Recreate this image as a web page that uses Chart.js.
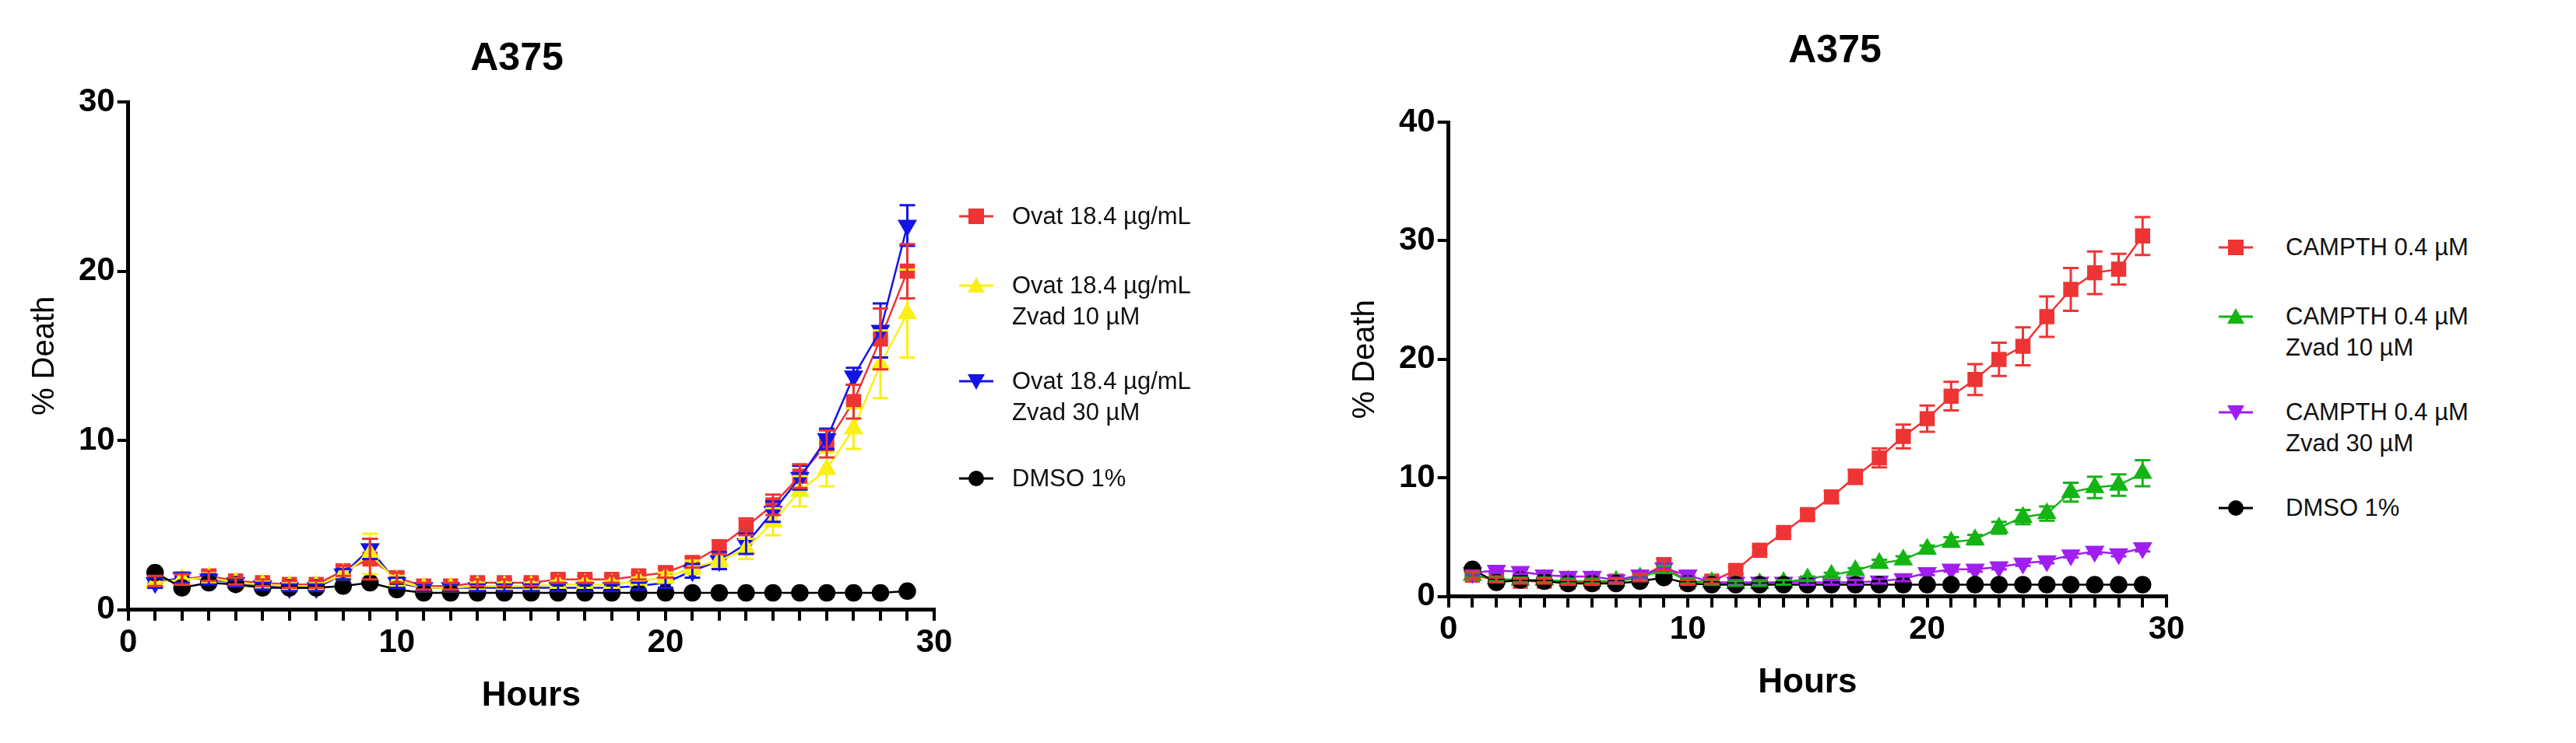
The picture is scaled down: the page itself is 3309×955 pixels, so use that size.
<!DOCTYPE html>
<html>
<head>
<meta charset="utf-8">
<script src="https://cdn.jsdelivr.net/npm/chart.js@4.4.1/dist/chart.umd.min.js"></script>
<style>
body { margin: 0; background: #fff; font-family: "Liberation Sans", Arial, sans-serif; }
#wrap { position: relative; width: 3309px; height: 955px; }
canvas { position: absolute; }
.title { position: absolute; font-weight: bold; font-size: 50px; transform: translateX(-50%); }
.leg { position: absolute; font-size: 31px; line-height: 40px; color: #111; }
.leg svg { position: absolute; }
</style>
</head>
<body>
<div id="wrap">
  <div class="title" style="left:664px;top:44px">A375</div>
  <div class="title" style="left:2357px;top:34px">A375</div>
  <canvas id="left" style="left:0;top:0" width="1230" height="955"></canvas>
  <canvas id="right" style="left:1660px;top:0" width="1170" height="955"></canvas>
  <div id="legLeft"></div>
  <div id="legRight"></div>
</div>
<script>
// 時間 (共通)
const hours = [1,2,3,4,5,6,7,8,9,10,11,12,13,14,15,16,17,18,19,20,21,22,23,24,25,26,27,28,29];

// 左: Ovat
const ovat = [1.7,1.8,2.0,1.7,1.6,1.5,1.5,2.3,3.0,1.9,1.4,1.4,1.6,1.6,1.6,1.8,1.8,1.8,2.0,2.2,2.8,3.7,4.9,6.2,7.9,9.8,12.3,16.0,20.0];
const ovatErr = [0.3,0.3,0.3,0.2,0.2,0.2,0.2,0.3,1.2,0.3,0.2,0.2,0.2,0.2,0.2,0.2,0.2,0.2,0.2,0.3,0.3,0.4,0.5,0.6,0.7,0.8,1.0,1.8,1.6];
const ovatZ10 = [1.6,1.8,1.9,1.6,1.5,1.4,1.4,2.1,3.3,1.7,1.3,1.3,1.4,1.4,1.4,1.5,1.5,1.5,1.7,1.9,2.5,2.9,3.6,5.2,7.0,8.3,10.7,14.5,17.5];
const ovatZ10Err = [0.3,0.3,0.3,0.2,0.2,0.2,0.2,0.3,1.2,0.3,0.2,0.2,0.2,0.2,0.2,0.2,0.2,0.2,0.2,0.3,0.4,0.4,0.6,0.8,0.9,1.0,1.2,2.0,2.6];
const ovatZ30 = [1.6,1.9,1.8,1.6,1.4,1.3,1.3,2.1,3.6,1.6,1.3,1.3,1.3,1.3,1.3,1.3,1.3,1.3,1.4,1.6,2.3,2.9,3.9,5.8,7.8,10.1,13.8,16.5,22.7];
const ovatZ30Err = [0.3,0.3,0.3,0.2,0.2,0.2,0.2,0.3,0.6,0.3,0.2,0.2,0.2,0.2,0.2,0.2,0.2,0.2,0.2,0.3,0.4,0.5,0.6,0.6,0.7,0.6,0.5,1.6,1.2];
const dmsoL = [2.2,1.3,1.6,1.5,1.3,1.3,1.3,1.4,1.6,1.2,1.0,1.0,1.0,1.0,1.0,1.0,1.0,1.0,1.0,1.0,1.0,1.0,1.0,1.0,1.0,1.0,1.0,1.0,1.1];

// 右: CAMPTH
const campth = [1.8,1.4,1.3,1.3,1.2,1.2,1.3,1.6,2.7,1.2,1.3,2.2,3.9,5.4,6.9,8.4,10.1,11.7,13.5,15.0,16.9,18.3,20.0,21.1,23.6,25.9,27.3,27.6,30.4];
const campthErr = [0.3,0.2,0.2,0.2,0.2,0.2,0.2,0.3,0.5,0.2,0.2,0.3,0.3,0.3,0.4,0.5,0.6,0.8,1.0,1.1,1.2,1.3,1.4,1.6,1.7,1.8,1.8,1.3,1.6];
const campthZ10 = [1.8,1.5,1.4,1.4,1.3,1.3,1.3,1.6,2.3,1.3,1.2,1.1,1.1,1.2,1.5,1.8,2.2,2.8,3.1,4.0,4.6,4.8,5.8,6.7,7.0,8.8,9.2,9.4,10.4];
const campthZ10Err = [0.2,0.2,0.2,0.2,0.2,0.2,0.2,0.2,0.3,0.2,0.2,0.2,0.2,0.2,0.2,0.2,0.2,0.3,0.3,0.3,0.4,0.4,0.5,0.6,0.6,0.8,0.9,0.9,1.1];
const campthZ30 = [2.0,2.2,2.1,1.8,1.7,1.7,1.4,1.8,2.4,1.8,1.2,1.2,1.2,1.2,1.2,1.2,1.2,1.3,1.5,2.0,2.3,2.3,2.5,2.8,3.0,3.5,3.8,3.6,4.1];
const campthZ30Err = [0.2,0.2,0.2,0.2,0.2,0.2,0.2,0.2,0.4,0.2,0.2,0.2,0.2,0.2,0.2,0.2,0.2,0.2,0.2,0.2,0.2,0.2,0.2,0.2,0.2,0.2,0.2,0.2,0.3];
const dmsoR = [2.3,1.2,1.4,1.3,1.1,1.1,1.1,1.3,1.6,1.1,1.0,1.0,1.0,1.0,1.0,1.0,1.0,1.0,1.0,1.0,1.0,1.0,1.0,1.0,1.0,1.0,1.0,1.0,1.0];

const red = 'rgb(238,52,52)', yellow = 'rgb(250,240,20)', blue = 'rgb(20,20,230)',
      green = 'rgb(20,180,20)', purple = 'rgb(160,30,240)', black = '#000';

// エラーバー描画プラグイン
const errorBars = {
    id: 'errorBars',
    afterDatasetsDraw(chart) {
        const ctx = chart.ctx;
        const y = chart.scales.y;
        chart.data.datasets.forEach((ds, i) => {
            if (!ds.errors) return;
            const meta = chart.getDatasetMeta(i);
            ctx.save();
            ctx.strokeStyle = ds.errColor || ds.borderColor;
            ctx.lineWidth = 3;
            meta.data.forEach((pt, j) => {
                const v = ds.data[j].y, e = ds.errors[j];
                const top = y.getPixelForValue(v + e), bot = y.getPixelForValue(v - e);
                ctx.beginPath();
                ctx.moveTo(pt.x, top); ctx.lineTo(pt.x, bot);
                ctx.moveTo(pt.x - 10, top); ctx.lineTo(pt.x + 10, top);
                ctx.moveTo(pt.x - 10, bot); ctx.lineTo(pt.x + 10, bot);
                ctx.stroke();
            });
            ctx.restore();
        });
    }
};

function series(vals, color, style, errs, rot) {
    return {
        data: hours.map((h, i) => ({ x: h, y: vals[i] })),
        borderColor: color,
        backgroundColor: color,
        borderWidth: 2.5,
        pointStyle: style,
        pointRotation: rot || 0,
        pointRadius: style === 'circle' ? 10 : 12,
        errors: errs
    };
}

function axes(yMax) {
    const tickFont = { size: 42, weight: 'bold', family: 'Liberation Sans' };
    return {
        x: {
            type: 'linear', min: 0, max: 30,
            border: { color: '#000', width: 5 },
            grid: { drawOnChartArea: false, color: '#000', lineWidth: 4, tickLength: 14 },
            ticks: { stepSize: 1, color: '#000', font: tickFont, autoSkip: false, maxRotation: 0,
                     callback: v => (v % 10 === 0 ? v : '') },
            title: { display: true, text: 'Hours', color: '#000', font: { size: 44, weight: 'bold', family: 'Liberation Sans' }, padding: { top: 14 } }
        },
        y: {
            min: 0, max: yMax,
            border: { color: '#000', width: 5 },
            grid: { drawOnChartArea: false, color: '#000', lineWidth: 4, tickLength: 14 },
            ticks: { stepSize: 10, color: '#000', font: tickFont },
            title: { display: true, text: '% Death', color: '#000', font: { size: 40, family: 'Liberation Sans' }, padding: { bottom: 16 } }
        }
    };
}

function makeChart(id, datasets, yMax, padding) {
    return new Chart(document.getElementById(id), {
        type: 'line',
        data: { datasets },
        options: {
            responsive: false,
            animation: false,
            layout: { padding },
            plugins: { legend: { display: false }, tooltip: { enabled: false } },
            scales: axes(yMax)
        },
        plugins: [errorBars]
    });
}

// 左チャート
makeChart('left', [
    series(dmsoL, black, 'circle'),
    series(ovatZ10, yellow, 'triangle', ovatZ10Err),
    series(ovatZ30, blue, 'triangle', ovatZ30Err, 180),
    series(ovat, red, 'rect', ovatErr)
], 30, { left: 30, top: 131, right: 30, bottom: 30 });

// 右チャート
makeChart('right', [
    series(dmsoR, black, 'circle'),
    series(campthZ30, purple, 'triangle', campthZ30Err, 180),
    series(campthZ10, green, 'triangle', campthZ10Err),
    series(campth, red, 'rect', campthErr)
], 40, { left: 66, top: 157, right: 47, bottom: 47 });

// 凡例 (HTML)
function marker(style, color) {
    let shape;
    if (style === 'rect') shape = `<rect x="12" y="10" width="20" height="20" fill="${color}"/>`;
    else if (style === 'up') shape = `<polygon points="22,9 33,29 11,29" fill="${color}"/>`;
    else if (style === 'down') shape = `<polygon points="22,31 33,11 11,11" fill="${color}"/>`;
    else shape = `<circle cx="22" cy="20" r="10" fill="${color}"/>`;
    return `<svg width="44" height="40" style="left:0;top:0"><line x1="0" y1="20" x2="44" y2="20" stroke="${color}" stroke-width="3"/>${shape}</svg>`;
}

function buildLegend(el, items, x, textX) {
    el.innerHTML = items.map(it =>
        `<div class="leg" style="left:${x}px;top:${it.top}px;width:600px">${marker(it.style, it.color)}<div style="margin-left:${textX - x}px">${it.lines.join('<br>')}</div></div>`
    ).join('');
}

buildLegend(document.getElementById('legLeft'), [
    { top: 258, style: 'rect', color: red, lines: ['Ovat 18.4 µg/mL'] },
    { top: 347, style: 'up', color: yellow, lines: ['Ovat 18.4 µg/mL', 'Zvad 10 µM'] },
    { top: 470, style: 'down', color: blue, lines: ['Ovat 18.4 µg/mL', 'Zvad 30 µM'] },
    { top: 595, style: 'circle', color: black, lines: ['DMSO 1%'] }
], 1232, 1300);

buildLegend(document.getElementById('legRight'), [
    { top: 298, style: 'rect', color: red, lines: ['CAMPTH 0.4 µM'] },
    { top: 387, style: 'up', color: green, lines: ['CAMPTH 0.4 µM', 'Zvad 10 µM'] },
    { top: 510, style: 'down', color: purple, lines: ['CAMPTH 0.4 µM', 'Zvad 30 µM'] },
    { top: 633, style: 'circle', color: black, lines: ['DMSO 1%'] }
], 2850, 2936);
</script>
</body>
</html>
